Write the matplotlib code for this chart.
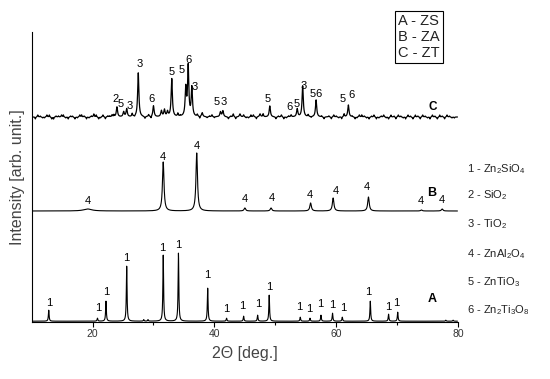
import numpy as np
import matplotlib.pyplot as plt

plt.rcParams['font.family'] = ['Liberation Sans', 'DejaVu Sans']
plt.rcParams['mathtext.fontset'] = 'custom'
plt.rcParams['mathtext.rm'] = 'Liberation Sans'
plt.rcParams['mathtext.it'] = 'Liberation Sans:italic'

# --- A - ZS (Zn2SiO4) ---
a_pos = [12.8, 20.8, 22.2, 25.6, 31.6, 34.1, 38.9, 42.0, 44.8, 47.1, 49.0,
         54.1, 55.7, 57.5, 59.4, 61.0, 65.6, 68.6, 70.1, 28.4, 29.1, 78.0, 79.2]
a_h = [11, 3, 20, 55, 66, 68, 33, 3, 5, 6, 26,
       4, 3, 6, 8, 4, 20, 7, 9, 1.5, 1.5, 1, 1]
a_lbl_x = [12.8, 20.9, 22.2, 25.6, 31.5, 34.1, 38.9, 41.9, 44.6, 47.2, 49.0,
           54.0, 55.6, 57.3, 59.3, 61.2, 65.3, 68.5, 69.9]
a_lbl_y = [15, 10, 26, 60, 70, 73, 43, 9, 12, 14, 31, 11, 9, 14, 13, 10, 26, 11, 15]

# --- B - ZA (ZnAl2O4) ---
b_pos = [31.6, 37.1, 45.0, 49.3, 55.8, 59.5, 65.3, 74.0, 77.4]
b_h = [49, 58, 3, 3, 8, 13, 14, 1, 2]
b_bump = (19.2, 2)
b_lbl_x = [19.2, 31.6, 37.1, 45.0, 49.5, 55.7, 60.0, 65.0, 73.9, 77.3]
b_lbl_y = [7, 51, 62, 9, 10, 13, 17, 21, 7, 8]

# --- C - ZT (TiO2 / ZnTiO3 / Zn2Ti3O8) ---
c_pos = [24.0, 25.1, 25.6, 27.5, 30.0, 31.3, 31.8, 32.3, 33.0, 35.3, 35.7, 36.3,
         41.0, 41.4, 49.1, 53.6, 54.5, 56.7, 62.0, 38.0, 44.2, 47.5]
c_h = [10, 5, 8, 44, 11, 6, 7, 5, 38, 28, 50, 29,
       5, 6, 11, 8, 31, 17, 12, 4, 3, 3]
c_noise_pos = [11.0, 11.8, 12.5, 13.3, 14.0, 14.9, 15.6, 16.4, 17.1, 17.9, 18.6,
               19.4, 20.2, 21.0, 21.7, 22.5, 23.2, 26.5, 28.6, 29.2, 34.0, 37.2,
               38.8, 39.6, 42.3, 43.1, 44.8, 45.6, 46.4, 48.0, 50.1, 51.0, 51.8,
               52.6, 55.4, 58.0, 58.8, 59.6, 60.4, 61.3, 63.1, 63.8, 64.6, 65.4,
               66.2, 67.0, 67.8, 68.6, 69.5, 70.2, 71.0, 71.8, 72.6, 73.4, 74.2,
               75.0, 75.8, 76.6, 77.4, 78.2, 79.0]
c_noise_h = [2, -1, 2, -2, 1, 2, -1, 1, -2, 2, 1,
             -1, 3, -2, 2, 1, 2, 3, -2, 2, 3, 2,
             -1, 2, -2, 3, 2, -1, 2, 3, -2, 2, -1,
             2, 2, -2, 1, 2, -1, 3, -2, 2, 1, -2,
             2, -1, 2, -2, 1, 2, -1, 2, -2, 1, 2,
             -1, 2, -2, 1, 2, -1]
c_fine_pos = [10.6, 11.4, 12.1, 12.9, 13.6, 14.4, 15.2, 16.0, 16.7, 17.5, 18.2,
              19.0, 19.8, 20.6, 21.3, 22.1, 22.8, 23.5, 26.9, 29.6, 34.4, 37.6,
              39.2, 40.0, 42.7, 43.5, 45.2, 46.0, 46.9, 50.5, 51.4, 52.2, 55.9,
              57.6, 59.2, 60.0, 60.9, 62.6, 63.4, 64.2, 65.0, 65.8, 66.6, 67.4,
              68.2, 69.0, 69.8, 70.6, 71.4, 72.2, 73.0, 73.8, 74.6, 75.4, 76.2,
              77.0, 77.8, 78.6, 79.4]
c_fine_h = [-2, 1, -1, 2, -2, 1, 2, -2, 1, -1, 2,
            -2, 1, 2, -1, -2, 1, 2, -1, -2, 1, -2,
            1, -1, 1, -2, -1, 2, -2, 1, -2, 1, -1,
            1, -2, 1, -2, 1, -1, 2, -1, 1, -2, 1,
            -1, 2, -2, 1, -2, 1, 2, -2, 1, -2, 1,
            2, -2, 1, -1]
c_lbl = ['2', '5', '3', '3', '6', '5', '5', '6', '3', '5', '3',
         '5', '6', '5', '3', '5', '6', '5', '6']
c_lbl_x = [23.7, 24.6, 26.1, 27.7, 29.7, 33.0, 34.7, 35.8, 36.8, 40.3, 41.5,
           48.7, 52.4, 53.5, 54.7, 56.2, 57.1, 61.1, 62.5]
c_lbl_y = [15, 10, 8, 50, 15, 42, 44, 54, 27, 12, 12,
           15, 7, 10, 28, 20, 20, 15, 19]

offsets = {'A': 0.5, 'B': 110.7, 'C': 204.7}
phases = ['1 - Zn$_2$SiO$_4$', '2 - SiO$_2$', '3 - TiO$_2$',
          '4 - ZnAl$_2$O$_4$', '5 - ZnTiO$_3$', '6 - Zn$_2$Ti$_3$O$_8$']

x = np.arange(10.2, 79.9, 0.02)


def profile(pos, h, g):
    y = np.zeros_like(x)
    for p, hh in zip(pos, h):
        y += hh / (1 + ((x - p) / g) ** 2)
    return y


ya = profile(a_pos, a_h, 0.07)
yb = profile(b_pos, b_h, 0.15) + profile([b_bump[0]], [b_bump[1]], 0.8)
yc = (profile(c_pos, c_h, 0.12) + profile(c_noise_pos, c_noise_h, 0.08)
      + profile(c_fine_pos, c_fine_h, 0.06))

fig = plt.figure(figsize=(5.5, 3.79), dpi=100)
ax = fig.add_axes([0.0576, 0.1512, 0.7751, 0.7652])

ax.plot(x, ya + offsets['A'], color='black', lw=0.8)
ax.plot(x, yb + offsets['B'], color='black', lw=0.8)
ax.plot(x, yc + offsets['C'], color='black', lw=0.9)

lbl_kw = dict(ha='center', va='baseline', fontsize=8)
for lx, ly in zip(a_lbl_x, a_lbl_y):
    ax.text(lx, offsets['A'] + ly, '1', **lbl_kw)
for lx, ly in zip(b_lbl_x, b_lbl_y):
    ax.text(lx, offsets['B'] + ly, '4', **lbl_kw)
for t, lx, ly in zip(c_lbl, c_lbl_x, c_lbl_y):
    ax.text(lx, offsets['C'] + ly, t, **lbl_kw)

ax.text(75.7, offsets['A'] + 22, 'A', ha='center', va='center', fontsize=9, fontweight='bold')
ax.text(75.6, offsets['B'] + 17.5, 'B', ha='center', va='center', fontsize=9, fontweight='bold')
ax.text(75.8, offsets['C'] + 10, 'C', ha='center', va='center', fontsize=8.5, fontweight='bold')

ax.set_xlim(10, 80)
ax.set_ylim(0, 290)
ax.spines['top'].set_visible(False)
ax.spines['right'].set_visible(False)
ax.spines['left'].set_linewidth(0.8)
ax.spines['bottom'].set_linewidth(0.8)
ax.set_yticks([])
ax.set_xticks([20, 40, 60, 80])
ax.set_xticks([30, 50, 70], minor=True)
ax.tick_params(axis='x', which='major', direction='out', length=3.5, width=0.8,
               labelsize=7.5, labelcolor='#333333', pad=2)
ax.tick_params(axis='x', which='minor', direction='out', length=2, width=0.8)
ax.set_xlabel('2Θ [deg.]', fontsize=11.5, color='#444444', labelpad=5)
ax.set_ylabel('Intensity [arb. unit.]', fontsize=11.5, color='#444444', labelpad=5)

# phase list on the right
ys = [172, 198, 227, 257, 285, 313]
for t, yp in zip(phases, ys):
    fig.text(467 / 550, 1 - yp / 379, t, fontsize=8, color='#222222', va='baseline')

# sample box
fig.text(398 / 550, 1 - 37 / 379, 'A - ZS\nB - ZA\nC - ZT', fontsize=10.5,
         va='center', ha='left', linespacing=1.15, color='#222222',
         bbox=dict(boxstyle='square,pad=0.2', facecolor='white', edgecolor='black', lw=0.8))

fig.savefig('out.png', dpi=100)
